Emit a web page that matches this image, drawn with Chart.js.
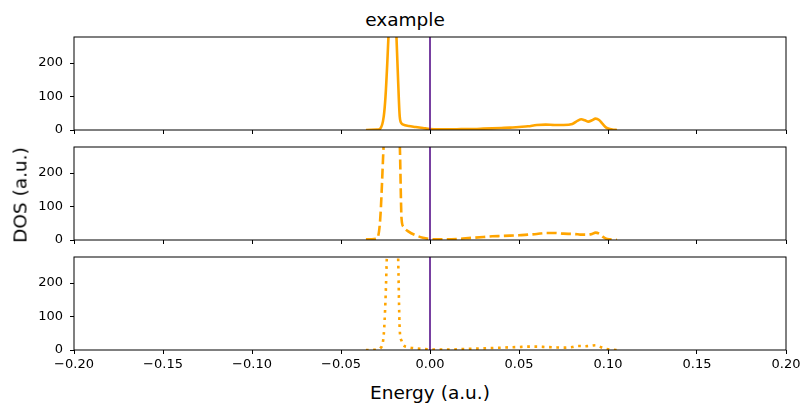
<!DOCTYPE html>
<html>
<head>
<meta charset="utf-8">
<script src="https://cdn.jsdelivr.net/npm/chart.js@4/dist/chart.umd.min.js"></script>
<style>
  body { margin: 0; background: #fff; }
  #wrap { position: relative; width: 811px; height: 411px; font-family: "DejaVu Sans", sans-serif; }
  canvas { position: absolute; left: 0; }
  .lbl { position: absolute; font-size: 18.5px; color: #000; white-space: nowrap; }
</style>
</head>
<body>
<div id="wrap">
  <div class="lbl" style="left:405px; top:19px; transform:translate(-50%,-50%);">example</div>
  <canvas id="c1" width="811" height="108" style="top:32px"></canvas>
  <canvas id="c2" width="811" height="108" style="top:142px"></canvas>
  <canvas id="c3" width="811" height="123" style="top:252px"></canvas>
  <div class="lbl" style="left:20px; top:195px; transform:translate(-50%,-50%) rotate(-90deg);">DOS (a.u.)</div>
  <div class="lbl" style="left:430px; top:392px; transform:translate(-50%,-50%);">Energy (a.u.)</div>
</div>
<script>
// energy grid shared by all three panels
const energy = [-0.036, -0.030, -0.028, -0.026, -0.025, -0.024, -0.023, -0.022, -0.021, -0.020,
  -0.019, -0.018, -0.017, -0.016, -0.015, -0.012, -0.008, -0.004, 0.0, 0.005,
  0.010, 0.015, 0.020, 0.025, 0.030, 0.035, 0.040, 0.045, 0.050, 0.055,
  0.060, 0.065, 0.070, 0.075, 0.080, 0.083, 0.085, 0.087, 0.089, 0.091,
  0.093, 0.095, 0.097, 0.099, 0.101, 0.103, 0.105];

const dosSolid = [0, 1, 4, 40, 100, 200, 320, 450, 500, 460,
  300, 160, 40, 20, 16, 12, 9, 6, 3, 2,
  2, 2, 3, 3, 4, 5, 6, 7, 9, 11,
  15, 16, 15, 15, 18, 28, 32, 29, 25, 29,
  34, 30, 18, 7, 3, 1, 0];

const dosDashed = [2, 4, 60, 290, 400, 480, 520, 530, 520, 480,
  420, 350, 290, 65, 40, 25, 14, 7, 3, 2,
  2, 3, 5, 7, 9, 11, 12, 13, 14, 16,
  18, 21, 21, 19, 18, 17, 16, 16, 16, 18,
  22, 19, 10, 4, 2, 1, 0];

const dosDotted = [0, 1, 5, 45, 150, 320, 450, 520, 540, 520,
  450, 300, 60, 28, 15, 8, 5, 3, 2, 1,
  1, 2, 3, 4, 5, 6, 7, 8, 9, 10,
  10, 9, 8, 7, 9, 12, 12, 11, 12, 13,
  14, 11, 6, 3, 2, 1, 0];

const fermiX = [0, 0];
const fermiY = [0, 278];
const yTicks = [0, 100, 200];
const xMin = -0.2, xMax = 0.2, yMax = 278;

const boxPlugin = {
  id: 'box',
  afterDraw(chart) {
    const a = chart.chartArea, ctx = chart.ctx;
    ctx.save();
    ctx.strokeStyle = '#000';
    ctx.lineWidth = 1;
    ctx.strokeRect(a.left, a.top, a.right - a.left, a.bottom - a.top);
    ctx.restore();
  }
};

function makePanel(id, values, dash, showX) {
  const pts = energy.map((e, i) => ({ x: e, y: values[i] }));
  const vline = fermiX.map((x, i) => ({ x: x, y: fermiY[i] }));
  new Chart(document.getElementById(id), {
    type: 'line',
    data: {
      datasets: [
        { data: vline, borderColor: '#4b0082', borderWidth: 1.5, pointRadius: 0, order: 0 },
        { data: pts, borderColor: '#ffa500', borderWidth: 2.6, pointRadius: 0,
          borderDash: dash, borderCapStyle: 'butt', borderJoinStyle: 'round',
          cubicInterpolationMode: 'monotone', order: 1 }
      ]
    },
    options: {
      responsive: false,
      devicePixelRatio: 1,
      animation: false,
      layout: { padding: { top: 5, right: 25, left: 0, bottom: 0 } },
      plugins: { legend: { display: false }, tooltip: { enabled: false } },
      scales: {
        x: {
          type: 'linear', min: xMin, max: xMax,
          border: { display: false },
          grid: { display: true, drawOnChartArea: false, drawTicks: true, tickLength: 4, color: '#000' },
          ticks: {
            stepSize: 0.05, padding: 3, color: '#000', maxRotation: 0, autoSkip: false,
            font: { family: 'DejaVu Sans', size: 13 },
            callback: v => showX ? v.toFixed(2).replace('-', '\u2212') : ''
          },
          afterFit: s => { s.height = showX ? 25 : 10; s.paddingLeft = 0; s.paddingRight = 0; }
        },
        y: {
          min: 0, max: yMax,
          border: { display: false },
          grid: { display: true, drawOnChartArea: false, drawTicks: true, tickLength: 4, color: '#000' },
          ticks: { padding: 7, color: '#000', font: { family: 'DejaVu Sans', size: 13 } },
          afterBuildTicks: s => { s.ticks = yTicks.map(v => ({ value: v })); },
          afterFit: s => { s.width = 74; s.paddingTop = 0; s.paddingBottom = 0; }
        }
      }
    },
    plugins: [boxPlugin]
  });
}

makePanel('c1', dosSolid, [], false);
makePanel('c2', dosDashed, [10, 4.3], false);
makePanel('c3', dosDotted, [2.7, 4.6], true);
</script>
</body>
</html>
